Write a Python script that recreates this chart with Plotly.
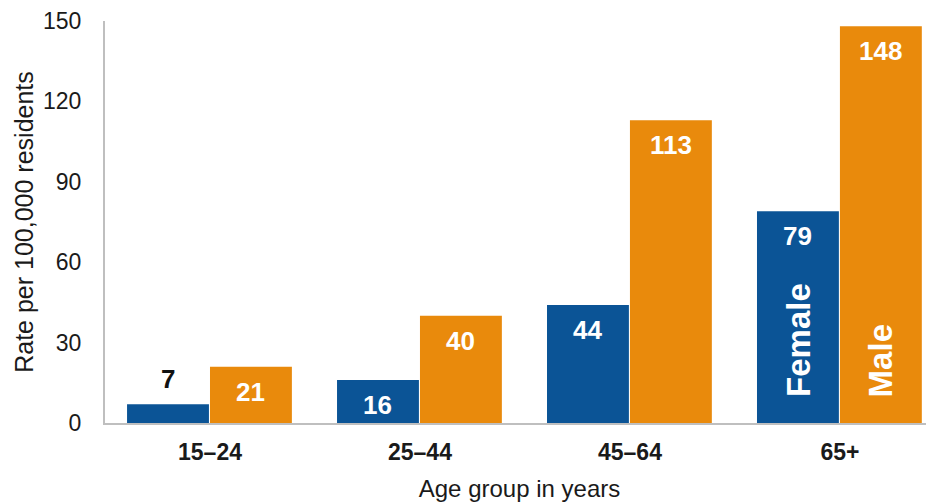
import plotly.graph_objects as go

categories = ["15–24", "25–44", "45–64", "65+"]
female = [7, 16, 44, 79]
male = [21, 40, 113, 148]
y_ticks = [0, 30, 60, 90, 120, 150]

BLUE = "#0B5496"
ORANGE = "#E98A0C"
FONT = "Liberation Sans, Arial, sans-serif"

xpos = list(range(len(categories)))
BW = 0.39
GAP = 0.005

fig = go.Figure()
fig.add_trace(go.Bar(x=xpos, y=female, width=BW, offset=-BW - GAP,
                     marker=dict(color=BLUE, line=dict(width=0)), name="Female"))
fig.add_trace(go.Bar(x=xpos, y=male, width=BW, offset=0.0,
                     marker=dict(color=ORANGE, line=dict(width=0)), name="Male"))

annotations = []
for i, v in enumerate(female):
    xc = i - BW / 2 - GAP
    if v < 12:
        annotations.append(dict(x=xc, y=v, xref="x", yref="y", text=f"<b>{v}</b>",
                                showarrow=False, yanchor="middle", yshift=25,
                                font=dict(family=FONT, size=26, color="#111111")))
    else:
        annotations.append(dict(x=xc, y=v, xref="x", yref="y", text=f"<b>{v}</b>",
                                showarrow=False, yanchor="middle", yshift=-25,
                                font=dict(family=FONT, size=26, color="white")))
for i, v in enumerate(male):
    xc = i + BW / 2
    annotations.append(dict(x=xc, y=v, xref="x", yref="y", text=f"<b>{v}</b>",
                            showarrow=False, yanchor="middle", yshift=-25,
                            font=dict(family=FONT, size=26, color="white")))

last = len(categories) - 1
annotations.append(dict(x=last - BW / 2 - GAP, y=0, xref="x", yref="y", text="<b>Female</b>",
                        showarrow=False, textangle=-90, yanchor="bottom", yshift=24,
                        font=dict(family=FONT, size=33, color="white")))
annotations.append(dict(x=last + BW / 2, y=0, xref="x", yref="y", text="<b>Male</b>",
                        showarrow=False, textangle=-90, yanchor="bottom", yshift=24,
                        font=dict(family=FONT, size=33, color="white")))

# The page body has an 8px default margin, so the figure is sized to fit the window.
fig.update_layout(
    width=926, height=496,
    margin=dict(l=97, r=0, t=13, b=81),
    paper_bgcolor="white", plot_bgcolor="white",
    showlegend=False,
    font=dict(family=FONT, color="#1a1a1a"),
    annotations=annotations,
    xaxis=dict(
        range=[-0.5, 3.448],
        tickvals=xpos, ticktext=[f"<b>{c}</b>" for c in categories],
        tickfont=dict(size=23, color="#1a1a1a"),
        showline=True, linecolor="#BFBFBF", linewidth=2,
        showgrid=False, zeroline=False, ticks="",
        ticklabelstandoff=7,
        title=dict(text="Age group in years", font=dict(size=24, color="#1a1a1a"), standoff=17),
    ),
    yaxis=dict(
        range=[0, 150],
        tickvals=y_ticks,
        tickfont=dict(size=23, color="#1a1a1a"),
        showline=True, linecolor="#BFBFBF", linewidth=2,
        showgrid=False, zeroline=False, ticks="",
        ticklabelstandoff=17,
        title=dict(text="Rate per 100,000 residents", font=dict(size=25, color="#1a1a1a"), standoff=2),
    ),
)

fig.write_html("out.html")
